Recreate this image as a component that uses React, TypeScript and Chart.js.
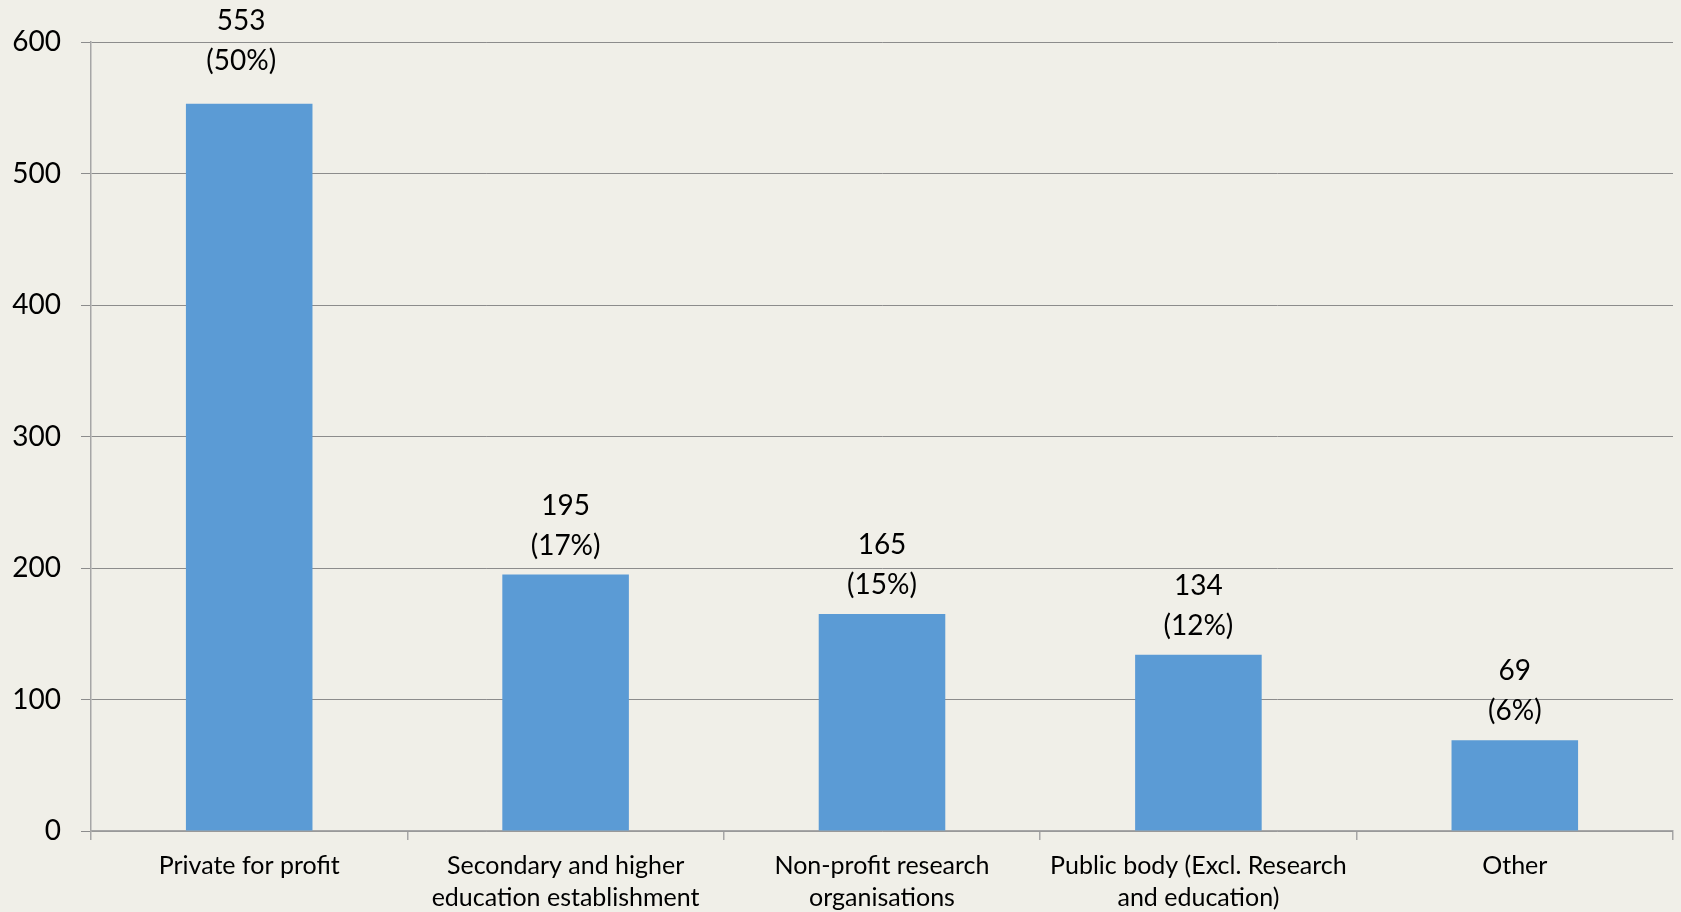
import React, { useEffect, useRef } from "react";
import { Chart, registerables } from "chart.js";

Chart.register(...registerables);

const categories: (string | string[])[] = [
  "Private for profit",
  ["Secondary and higher", "education establishment"],
  ["Non-profit research", "organisations"],
  ["Public body (Excl. Research", "and education)"],
  "Other",
];
const counts = [553, 195, 165, 134, 69];
const shares = ["50%", "17%", "15%", "12%", "6%"];
const yTicks = [0, 100, 200, 300, 400, 500, 600];

const FONT = "Lato, 'Open Sans', sans-serif";

const labelPlugin = {
  id: "barLabels",
  afterDatasetsDraw(chart: any) {
    const ctx = chart.ctx;
    const meta = chart.getDatasetMeta(0);
    ctx.save();
    ctx.fillStyle = "#000";
    ctx.font = `28px ${FONT}`;
    ctx.textAlign = "center";
    ctx.textBaseline = "middle";
    meta.data.forEach((bar: any, i: number) => {
      // the first label in the original was nudged left and up by its layout
      const x = bar.x - (i === 0 ? 8 : 0);
      const y = bar.y - (i === 0 ? 14 : 0);
      ctx.fillText(String(counts[i]), x, y - 69);
      ctx.fillText(`(${shares[i]})`, x, y - 29);
    });
    ctx.restore();
  },
};

export default function App() {
  const ref = useRef<HTMLCanvasElement>(null);
  useEffect(() => {
    document.body.style.margin = "0";
    const chart = new Chart(ref.current!, {
      type: "bar",
      data: {
        labels: categories as any,
        datasets: [
          {
            data: counts,
            backgroundColor: "#5B9BD5",
            categoryPercentage: 1,
            barPercentage: 0.4,
          },
        ],
      },
      options: {
        animation: false,
        responsive: false,
        maintainAspectRatio: false,
        layout: { padding: { left: 0, top: 42, right: 8, bottom: 0 } },
        plugins: { legend: { display: false }, tooltip: { enabled: false } },
        scales: {
          x: {
            grid: {
              offset: true,
              drawOnChartArea: false,
              drawTicks: true,
              tickLength: 9,
              color: "#A6A6A6",
              lineWidth: 1.5,
            },
            border: { color: "#A6A6A6", width: 1.5 },
            ticks: {
              color: "#000",
              font: { family: FONT, size: 25, lineHeight: 1.27 },
              padding: 10,
              maxRotation: 0,
              autoSkip: false,
            },
            afterFit(scale: any) {
              scale.height = 81;
            },
          },
          y: {
            min: 0,
            max: 600,
            afterBuildTicks(scale: any) {
              scale.ticks = yTicks.map((v) => ({ value: v }));
            },
            grid: {
              color: "#8C8C8C",
              lineWidth: 1,
              tickLength: 10,
            },
            border: { color: "#A6A6A6", width: 1.5 },
            ticks: {
              color: "#000",
              font: { family: FONT, size: 28 },
              padding: 20,
            },
            afterFit(scale: any) {
              scale.width = 91;
            },
          },
        },
      },
      plugins: [labelPlugin],
    });
    return () => chart.destroy();
  }, []);
  return (
    <div style={{ width: 1681, height: 912, background: "#F0EFE8" }}>
      <canvas ref={ref} width={1681} height={912} style={{ display: "block" }} />
    </div>
  );
}
